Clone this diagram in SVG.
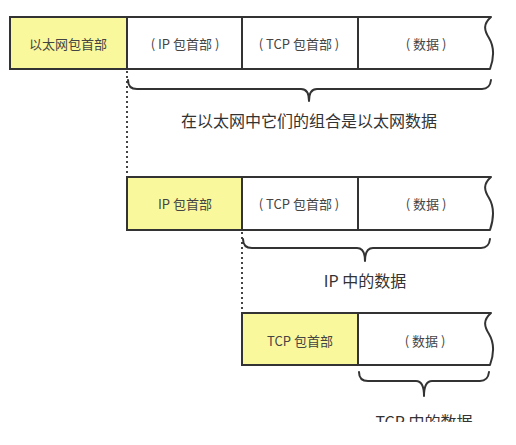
<svg xmlns="http://www.w3.org/2000/svg" width="516" height="445" viewBox="0 0 516 445">
<defs>
<style>
.frame{fill:#fff;stroke:#333;stroke-width:2;stroke-linejoin:round}
.hdr{fill:#f9f89c;stroke:#333;stroke-width:2}
.div{stroke:#333;stroke-width:2;fill:none}
.brace{stroke:#333;stroke-width:2;fill:none;stroke-linecap:round;stroke-linejoin:round}
.dot{stroke:#444;stroke-width:2;stroke-dasharray:2 3;fill:none}
.cell{font-family:"Noto Sans CJK SC",sans-serif;font-size:13px;fill:#444;text-anchor:middle;dominant-baseline:central}
.lbl{font-family:"Noto Sans CJK SC",sans-serif;font-size:16px;fill:#333;text-anchor:middle;dominant-baseline:central}
</style>
<clipPath id="cut"><rect x="0" y="0" width="516" height="422"/></clipPath>
</defs>
<g id="connectors">
<path class="dot" d="M127,71 V177"/>
<path class="dot" d="M242,232 V312"/>
</g>
<g id="row1">
<path class="frame" d="M10,17 H491 C483,24 484,30 489,38 C495,48 494,58 490,69 H10 Z"/>
<rect class="hdr" x="10" y="17" width="117" height="52"/>
<path class="div" d="M242,17 V69 M358,17 V69"/>
<text class="cell" x="68" y="43">以太网包首部</text>
<text class="cell" x="185" y="43">( IP 包首部 )</text>
<text class="cell" x="299" y="43">( TCP 包首部 )</text>
<text class="cell" x="426" y="43">( 数据 )</text>
</g>
<g id="brace1">
<path class="brace" d="M128,80 Q128,89 137,89 L301,89 Q309,89 309,101 Q309,89 317,89 L482,89 Q490,89 491,80"/>
<text class="lbl" x="309" y="120">在以太网中它们的组合是以太网数据</text>
</g>
<g id="row2">
<path class="frame" d="M127,177 H491 C483,184 484,190 489,198 C495,208 494,218 490,230 H127 Z"/>
<rect class="hdr" x="127" y="177" width="115" height="53"/>
<path class="div" d="M358,177 V230"/>
<text class="cell" x="185" y="203">IP 包首部</text>
<text class="cell" x="299" y="203">( TCP 包首部 )</text>
<text class="cell" x="426" y="203">( 数据 )</text>
</g>
<g id="brace2">
<path class="brace" d="M243,239 Q243,248 252,248 L357,248 Q365,248 365,261 Q365,248 373,248 L481,248 Q489,248 490,239"/>
<text class="lbl" x="365" y="280">IP 中的数据</text>
</g>
<g id="row3">
<path class="frame" d="M242,313 H491 C483,320 484,326 489,334 C495,344 494,354 490,365 H242 Z"/>
<rect class="hdr" x="242" y="313" width="116" height="52"/>
<text class="cell" x="300" y="340">TCP 包首部</text>
<text class="cell" x="425" y="340">( 数据 )</text>
</g>
<g id="brace3">
<path class="brace" d="M359,372 Q359,381 368,381 L416,381 Q424,381 424,396 Q424,381 432,381 L480,381 Q488,381 489,372"/>
<text class="lbl" x="424" y="421" clip-path="url(#cut)">TCP 中的数据</text>
</g>
</svg>
